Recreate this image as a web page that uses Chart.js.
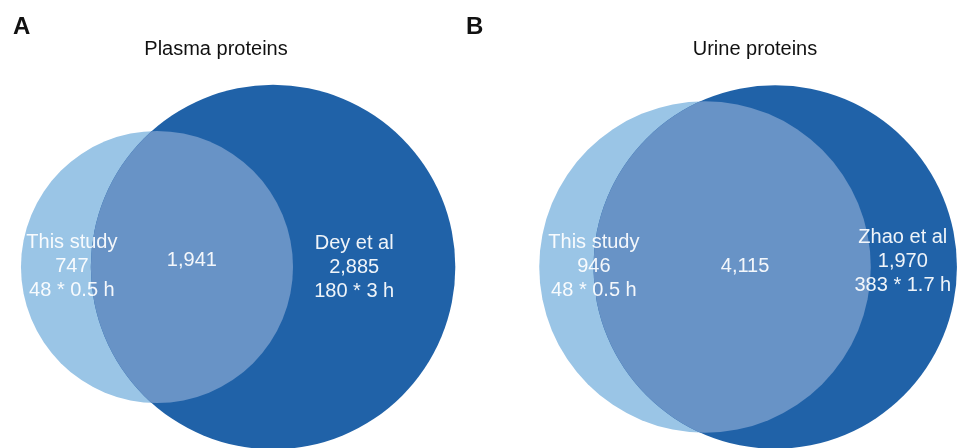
<!DOCTYPE html>
<html>
<head>
<meta charset="utf-8">
<script src="https://cdn.jsdelivr.net/npm/chart.js"></script>
<style>
  html, body { margin: 0; padding: 0; background: #ffffff; }
  #wrap { position: relative; width: 960px; height: 448px; overflow: hidden; background: #ffffff; }
  #wrap canvas { position: absolute; top: 0; }
  .tag { position: absolute; font: bold 24px "Liberation Sans", Arial, sans-serif; line-height: 24px; color: #111; }
  .ttl { position: absolute; font: 20px "Liberation Sans", Arial, sans-serif; line-height: 20px; color: #111;
         transform: translateX(-50%); white-space: nowrap; }
</style>
</head>
<body>
<div id="wrap">
  <canvas id="vennA" width="480" height="448" style="left:0"></canvas>
  <canvas id="vennB" width="480" height="448" style="left:480px"></canvas>
  <div class="tag" id="tagA" style="left:13px;top:14px"></div>
  <div class="tag" id="tagB" style="left:466px;top:14px"></div>
  <div class="ttl" id="ttlA" style="left:216px;top:38px"></div>
  <div class="ttl" id="ttlB" style="left:755px;top:38px"></div>
</div>
<script>
// Protein identifications per panel
const panelLetters = ['A', 'B'];
const panelTitles  = ['Plasma proteins', 'Urine proteins'];
const leftNames    = ['This study', 'This study'];
const rightNames   = ['Dey et al', 'Zhao et al'];
const leftOnly     = [747, 946];
const sharedCounts = [1941, 4115];
const rightOnly    = [2885, 1970];
const leftRuns     = ['48 * 0.5 h', '48 * 0.5 h'];
const rightRuns    = ['180 * 3 h', '383 * 1.7 h'];

const COLORS = { left: '#9AC5E6', right: '#2062A8', both: '#6893C6', text: 'rgba(255,255,255,0.93)' };
const FONT = '20px "Liberation Sans", Arial, sans-serif';

// Area of the lens formed by two circles of radii r1, r2 at centre distance d
function lensArea(r1, r2, d) {
  if (d >= r1 + r2) return 0;
  if (d <= Math.abs(r1 - r2)) return Math.PI * Math.min(r1, r2) ** 2;
  const a1 = Math.acos((d * d + r1 * r1 - r2 * r2) / (2 * d * r1));
  const a2 = Math.acos((d * d + r2 * r2 - r1 * r1) / (2 * d * r2));
  const k = Math.sqrt((-d + r1 + r2) * (d + r1 - r2) * (d - r1 + r2) * (d + r1 + r2));
  return r1 * r1 * a1 + r2 * r2 * a2 - 0.5 * k;
}

// Area-proportional two-set layout: radii from set sizes, distance from overlap size
function vennLayout(i) {
  const r1 = Math.sqrt((leftOnly[i] + sharedCounts[i]) / Math.PI);
  const r2 = Math.sqrt((rightOnly[i] + sharedCounts[i]) / Math.PI);
  let lo = Math.abs(r1 - r2), hi = r1 + r2;
  for (let k = 0; k < 80; k++) {
    const mid = (lo + hi) / 2;
    if (lensArea(r1, r2, mid) > sharedCounts[i]) lo = mid; else hi = mid;
  }
  return { r1, r2, d: (lo + hi) / 2 };
}

// Visible window (data units) and label anchors for each panel
const views = [
  { x: [-33.76, 69.46], y: [-38.92, 57.42],
    anchors: { left: [-18.3, 0.2], both: [7.5, 1.5], right: [42.4, 0.0] } },
  { x: [-54.48, 61.74], y: [-43.83, 64.65],
    anchors: { left: [-26.9, 0.2], both: [9.7, 0.2], right: [47.9, 1.4] } }
];

// Paints the shared region and the count labels on top of the two circles
const overlapPlugin = {
  id: 'vennOverlap',
  afterDatasetsDraw(chart, args, opts) {
    const i = opts.panel;
    const ctx = chart.ctx;
    const big = chart.getDatasetMeta(0).data[0];
    const small = chart.getDatasetMeta(1).data[0];
    const rb = big.options.radius, rs = small.options.radius;
    if (!(rb > 0) || !(rs > 0)) return;
    ctx.save();
    ctx.beginPath();
    ctx.arc(big.x, big.y, rb, 0, Math.PI * 2);
    ctx.clip();
    ctx.beginPath();
    ctx.arc(small.x, small.y, rs, 0, Math.PI * 2);
    ctx.fillStyle = COLORS.both;
    ctx.fill();
    ctx.restore();

    const xs = chart.scales.x, ys = chart.scales.y;
    const a = views[i].anchors;
    const block = (pos, lines) => {
      const px = xs.getPixelForValue(pos[0]);
      const py = ys.getPixelForValue(pos[1]);
      const start = py - (lines.length - 1) * 12;
      lines.forEach((t, k) => ctx.fillText(t, px, start + k * 24));
    };
    ctx.save();
    ctx.font = FONT;
    ctx.fillStyle = COLORS.text;
    ctx.textAlign = 'center';
    ctx.textBaseline = 'middle';
    block(a.left, [leftNames[i], leftOnly[i].toLocaleString('en-US'), leftRuns[i]]);
    block(a.both, [sharedCounts[i].toLocaleString('en-US')]);
    block(a.right, [rightNames[i], rightOnly[i].toLocaleString('en-US'), rightRuns[i]]);
    ctx.restore();
  }
};

function makePanel(i, canvasId) {
  const L = vennLayout(i);
  const v = views[i];
  const chart = new Chart(document.getElementById(canvasId), {
    type: 'bubble',
    data: {
      datasets: [
        { label: rightNames[i], data: [{ x: L.d, y: 0, size: L.r2 }], backgroundColor: COLORS.right,
          borderWidth: 0, hoverRadius: 0, clip: false },
        { label: leftNames[i],  data: [{ x: 0,   y: 0, size: L.r1 }], backgroundColor: COLORS.left,
          borderWidth: 0, hoverRadius: 0, clip: false }
      ]
    },
    options: {
      responsive: false,
      animation: false,
      events: [],
      devicePixelRatio: 1,
      layout: { padding: 0, autoPadding: false },
      scales: {
        x: { type: 'linear', min: v.x[0], max: v.x[1], display: false },
        y: { type: 'linear', min: v.y[0], max: v.y[1], display: false }
      },
      plugins: {
        legend: { display: false },
        tooltip: { enabled: false },
        vennOverlap: { panel: i }
      }
    },
    plugins: [overlapPlugin]
  });
  // Bubble radius in pixels = set radius (data units) x pixels per unit of the x scale
  const s = chart.scales.x;
  const pxPerUnit = Math.abs(s.getPixelForValue(1) - s.getPixelForValue(0));
  chart.data.datasets.forEach(ds => ds.data.forEach(p => { p.r = p.size * pxPerUnit; }));
  chart.update('none');
  return chart;
}

document.getElementById('tagA').textContent = panelLetters[0];
document.getElementById('tagB').textContent = panelLetters[1];
document.getElementById('ttlA').textContent = panelTitles[0];
document.getElementById('ttlB').textContent = panelTitles[1];

makePanel(0, 'vennA');
makePanel(1, 'vennB');
</script>
</body>
</html>
